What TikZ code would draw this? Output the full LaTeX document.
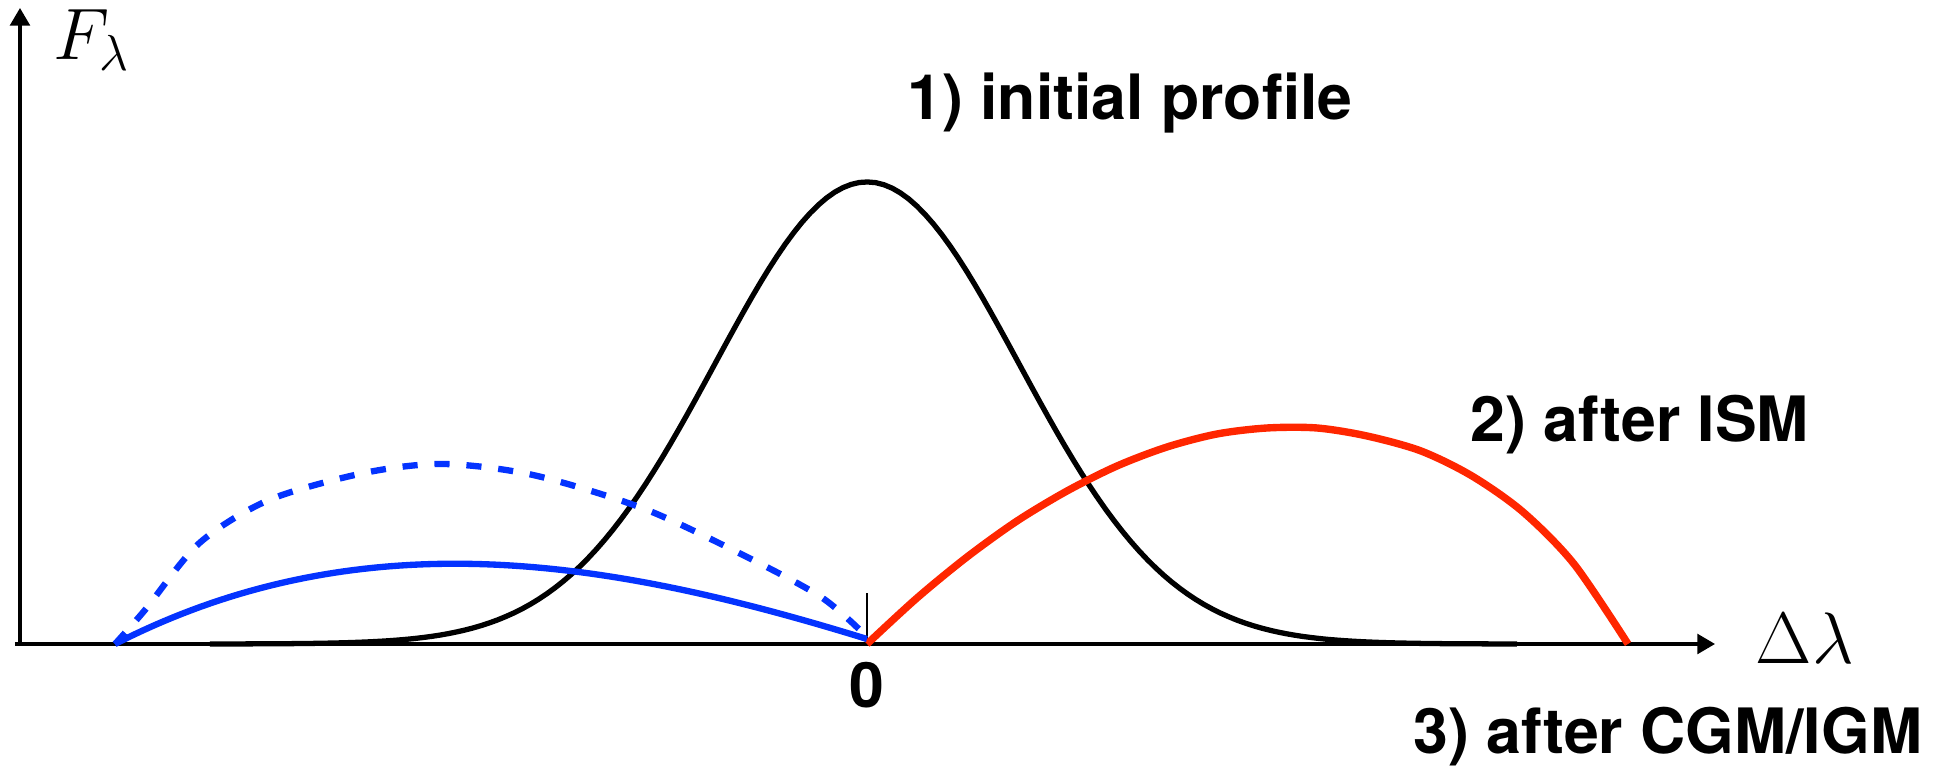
\documentclass[tikz,border=0pt]{standalone}
\usepackage{amsmath}
\usepackage{fontspec}
\setsansfont{TeX Gyre Heros}
\usepackage{tikz}
\usetikzlibrary{arrows.meta}
\definecolor{ismRed}{HTML}{FF2600}
\definecolor{igmBlue}{HTML}{0433FF}
\tikzset{
  axis line/.style={-{Triangle[length=5pt,width=5.6pt]}, line width=0.9pt},
  zero tick/.style={line width=0.6pt},
  initial line/.style={line width=1.5pt, draw=black},
  ism line/.style={line width=2.1pt, draw=ismRed},
  igm line/.style={line width=1.8pt, draw=igmBlue},
  igm dashed/.style={igm line, dash pattern=on 4.3pt off 4.8pt},
  stage label/.style={font=\sffamily\bfseries\fontsize{17.8}{21}\selectfont,
    inner sep=0pt},
  math label/.style={font=\fontsize{21}{25}\selectfont, inner sep=0pt}
}
\begin{document}
\begin{tikzpicture}
  \useasboundingbox (-8.67,-1.22) rectangle (10.74,6.44);
  % axes
  \coordinate (origin) at (0,0);
  \coordinate (xstart) at (-8.52,0);
  \coordinate (xend) at (8.48,0);
  \coordinate (ybase) at (-8.47,0);
  \coordinate (yend) at (-8.47,6.36);
  \draw[axis line] (xstart) -- (xend);
  \draw[axis line] (ybase) -- (yend);
  \draw[zero tick] (origin) -- (0,0.51);
  \node[math label, anchor=base west] (flux) at (-8.14,5.84) {$F_\lambda$};
  \node[math label, anchor=base west] (dlam) at (8.88,-0.20) {$\Delta\lambda$};
  \node[stage label, anchor=base] (zero) at (0,-0.64) {0};
  % 1) initial profile
  \draw[initial line] plot[domain=-6.57:6.50, samples=160]
    (\x, {4.62*exp(-(\x)^2/(2*1.52^2))});
  % 2) after ISM
  \draw[ism line] plot[smooth] coordinates {(0,0) (0.5,0.46) (1.0,0.87)
    (1.5,1.23) (2.0,1.53) (2.5,1.78) (3.0,1.97) (3.5,2.10) (4.0,2.16)
    (4.5,2.16) (5.0,2.08) (5.54,1.93) (6.05,1.68) (6.56,1.32) (7.07,0.80)
    (7.61,0)};
  % 3) after CGM/IGM
  \draw[igm dashed] plot[smooth] coordinates {(-7.52,0) (-7.22,0.34)
    (-6.675,1.01) (-5.98,1.44) (-5.03,1.71) (-4.24,1.80) (-3.34,1.69)
    (-2.25,1.36) (-1.30,0.92) (-0.46,0.47) (0,0.07)};
  \draw[igm line] plot[domain=-7.52:0, samples=80]
    (\x, {2.37*((\x+7.52)/7.52)*(1-(\x+7.52)/7.52)*(1.6-0.6*(\x+7.52)/7.52)
      + 0.05*(\x+7.52)/7.52});
  \node[stage label, anchor=base] (initial) at (2.63,5.24) {1) initial profile};
  \node[stage label, anchor=base] (ism) at (7.73,2.02) {2) after ISM};
  \node[stage label, anchor=base] (igm) at (8.01,-1.10) {3) after CGM/IGM};
\end{tikzpicture}
\end{document}
